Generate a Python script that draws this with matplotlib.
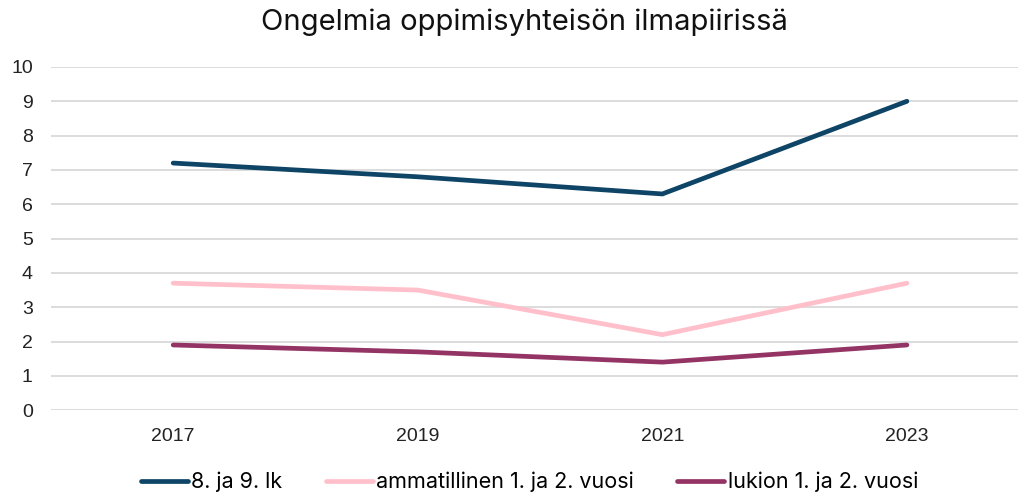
import matplotlib
matplotlib.use('Agg')
import matplotlib.pyplot as plt

# Aineisto luettu kuvasta
years = ['2017', '2019', '2021', '2023']
lk_8_9 = [7.2, 6.8, 6.3, 9.0]
ammatillinen = [3.7, 3.5, 2.2, 3.7]
lukio = [1.9, 1.7, 1.4, 1.9]

series = [
    ('8. ja 9. lk', lk_8_9, '#0E4465'),
    ('ammatillinen 1. ja 2. vuosi', ammatillinen, '#FFC0CB'),
    ('lukion 1. ja 2. vuosi', lukio, '#943464'),
]

plt.rcParams['font.family'] = ['Liberation Sans', 'DejaVu Sans']
wide = ['Inter', 'Noto Sans', 'DejaVu Sans']

fig = plt.figure(figsize=(10.18, 4.96), dpi=100)
# akseli jatkuu hieman kuvan oikean reunan yli, kuten alkuperäisessä
ax = fig.add_axes([0.05, 0.173, 0.961, 0.692])

x = list(range(len(years)))
for label, vals, color in series:
    ax.plot(x, vals, color=color, linewidth=3.4, solid_capstyle='round',
            solid_joinstyle='miter', label=label)

ax.set_xlim(-0.5, len(years) - 0.5)
ax.set_ylim(0, 10)
ax.set_yticks(range(0, 11))
ax.set_xticks(x)
ax.set_xticklabels(years)
ax.yaxis.grid(True, color='#D9D9D9', linewidth=1.3)
ax.set_axisbelow(True)
for s in ax.spines.values():
    s.set_visible(False)
ax.tick_params(axis='both', length=0, labelsize=14, colors='#222222')
ax.tick_params(axis='x', pad=13)
ax.tick_params(axis='y', pad=13)

fig.text(0.515, 0.955, 'Ongelmia oppimisyhteisön ilmapiirissä', fontsize=21,
         ha='center', va='center', color='#111111', family=wide)

fig.legend(loc='center', bbox_to_anchor=(0.52, 0.028), ncol=3,
           frameon=False, handlelength=2.2, handletextpad=0.15,
           columnspacing=2.0, prop={'family': wide, 'size': 15.5})

fig.savefig('out.png', dpi=100)
